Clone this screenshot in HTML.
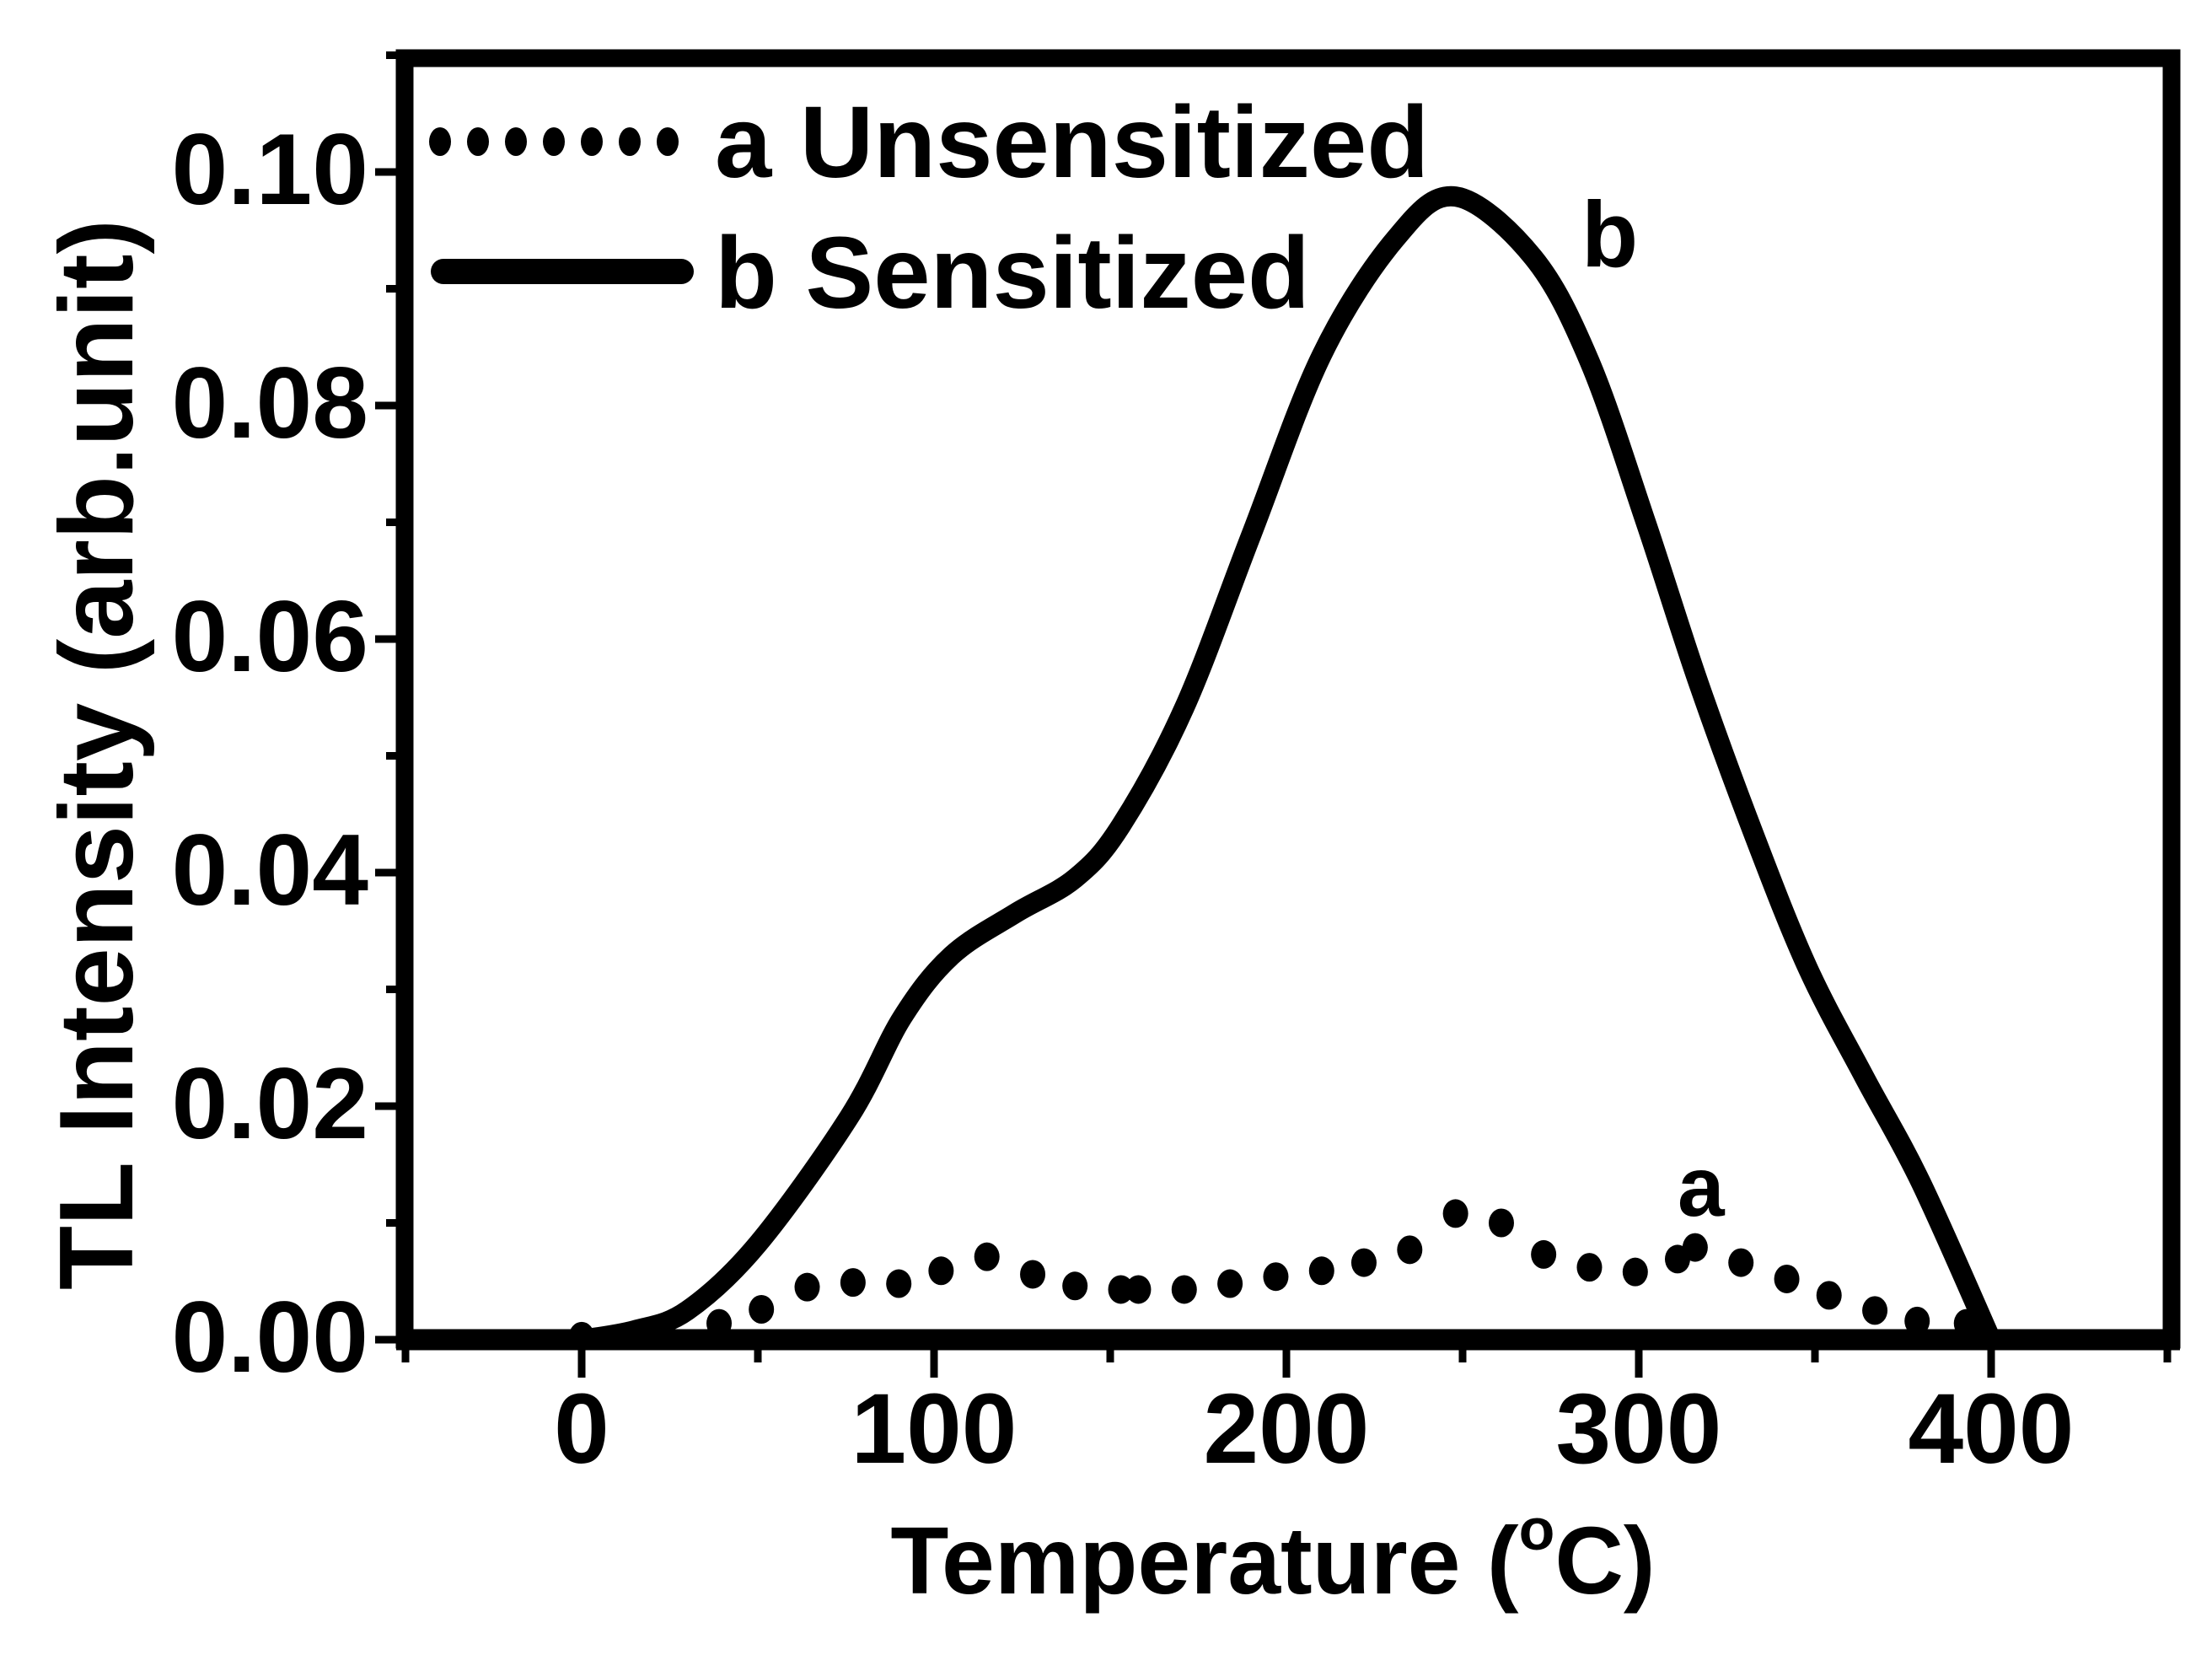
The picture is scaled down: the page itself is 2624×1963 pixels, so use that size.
<!DOCTYPE html>
<html><head><meta charset="utf-8"><style>
html,body{margin:0;padding:0;background:#fff;}
svg{display:block;font-family:"Liberation Sans",Arial,sans-serif;font-weight:bold;}
</style></head><body>
<svg id="chart" width="2624" height="1963" viewBox="0 0 2624 1963" xmlns="http://www.w3.org/2000/svg">
<rect width="2624" height="1963" fill="#fff"/>
<g id="ticks"></g>
<g id="series"></g>
<rect x="480" y="69" width="2096" height="1520" fill="none" stroke="#000" stroke-width="21"/>
<line x1="470" y1="1589" x2="2586" y2="1589" stroke="#000" stroke-width="25"/>
<g id="labels"></g>
<text transform="translate(157,895) rotate(-90)" text-anchor="middle" font-size="124" textLength="1270" lengthAdjust="spacingAndGlyphs">TL Intensity (arb.unit)</text>
<text x="1510" y="1890" text-anchor="middle" font-size="113">Temperature (<tspan font-size="70" dy="-52">o</tspan><tspan dy="52">C)</tspan></text>
<g>
<g id="legend-dots"></g>
<text x="848" y="210" font-size="121">a Unsensitized</text>
<line x1="526" y1="322" x2="808" y2="322" stroke="#000" stroke-width="30" stroke-linecap="round"/>
<text x="848" y="365" font-size="121">b Sensitized</text>
</g>
<text x="1876" y="316" font-size="110">b</text>
<text x="1990" y="1442" font-size="100">a</text>
</svg>
<script>
const xTicks = [0, 100, 200, 300, 400];
const yTicks = [0.00, 0.02, 0.04, 0.06, 0.08, 0.10];
const yTickLabels = ["0.00", "0.02", "0.04", "0.06", "0.08", "0.10"];
const sensT = [0,15,30,50,76,91,105,123,140,153,171,190,210,231,248,270,286,302,317,333,348,364,380,400];
const sensV = [0,0.0008,0.0025,0.0082,0.0191,0.0276,0.0329,0.0365,0.0395,0.044,0.0541,0.0689,0.0843,0.0943,0.0979,0.0927,0.0838,0.07,0.0562,0.043,0.0318,0.0225,0.0135,0];
const unsT = [0,39,51,64,77,90,102,115,128,140,153,158,171,184,197,210,222,235,248,261,273,286,299,311,316,329,342,354,367,379,393];
const unsV = [0.0003,0.0014,0.0026,0.0045,0.0049,0.0048,0.0059,0.0071,0.0056,0.0046,0.0043,0.0043,0.0043,0.0048,0.0054,0.0059,0.0066,0.0077,0.0108,0.0100,0.0073,0.0062,0.0058,0.0069,0.0079,0.0066,0.0052,0.0038,0.0025,0.0016,0.0014];

const NS = "http://www.w3.org/2000/svg";
const X0 = 690, XPER = 4.18;
const Y0 = 1589, YPER = 13850;
function sx(t){ return X0 + t * XPER; }
function sy(v){ return Y0 - v * YPER; }
function mk(tag, attrs, parent){
  const e = document.createElementNS(NS, tag);
  for (const k in attrs) e.setAttribute(k, attrs[k]);
  parent.appendChild(e);
  return e;
}
const ticksG = document.getElementById('ticks');
const labelsG = document.getElementById('labels');
const seriesG = document.getElementById('series');
const legG = document.getElementById('legend-dots');

for (let t = -50; t <= 450; t += 50) {
  const major = (t % 100 === 0);
  const l = mk('line', {x1: sx(t), x2: sx(t), y1: 1589, y2: major ? 1634 : 1616, stroke: '#000', 'stroke-width': 9}, ticksG);
  
  
}
xTicks.forEach(t => {
  const tx = mk('text', {x: sx(t), y: 1735, 'text-anchor': 'middle', 'font-size': 118}, labelsG);
  tx.textContent = String(t);
  
  
});
for (let i = 0; i <= 11; i++) {
  const v = i * 0.01;
  const major = (i % 2 === 0);
  const l = mk('line', {x1: major ? 445 : 458, x2: 480, y1: sy(v), y2: sy(v), stroke: '#000', 'stroke-width': 9}, ticksG);
  
  
}
yTicks.forEach((v, i) => {
  const tx = mk('text', {x: 437, y: sy(v) + 38, 'text-anchor': 'end', 'font-size': 120}, labelsG);
  tx.textContent = yTickLabels[i];
  
  
});

function smoothPath(pts){
  let d = 'M' + pts[0][0] + ',' + pts[0][1];
  for (let i = 0; i < pts.length - 1; i++) {
    const p0 = pts[i-1] || pts[i], p1 = pts[i], p2 = pts[i+1], p3 = pts[i+2] || pts[i+1];
    const c1x = p1[0] + (p2[0]-p0[0])/6, c1y = p1[1] + (p2[1]-p0[1])/6;
    const c2x = p2[0] - (p3[0]-p1[0])/6, c2y = p2[1] - (p3[1]-p1[1])/6;
    d += ' C' + c1x + ',' + c1y + ' ' + c2x + ',' + c2y + ' ' + p2[0] + ',' + p2[1];
  }
  return d;
}
const pts = sensT.map((t, i) => [sx(t), sy(sensV[i])]);
const path = mk('path', {d: smoothPath(pts), fill: 'none', stroke: '#000', 'stroke-width': 24, 'stroke-linejoin': 'round', 'stroke-linecap': 'round'}, seriesG);



unsT.forEach((t, i) => {
  const c = mk('ellipse', {cx: sx(t), cy: sy(unsV[i]), rx: 15, ry: 17, fill: '#000'}, seriesG);
  
  
});
for (let k = 0; k < 7; k++) {
  const c = mk('ellipse', {cx: 522 + k * 45, cy: 168, rx: 13, ry: 17, fill: '#000'}, legG);
  
  
}
</script>
</body></html>
